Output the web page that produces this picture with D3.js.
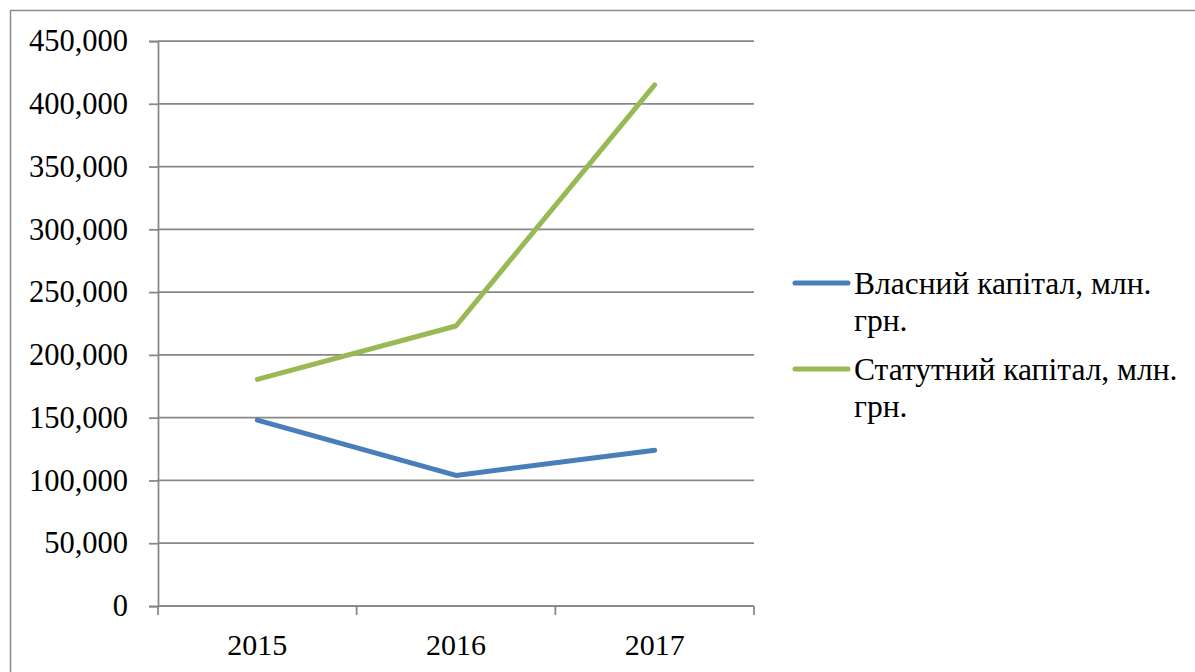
<!DOCTYPE html>
<html>
<head>
<meta charset="utf-8">
<script src="https://cdn.jsdelivr.net/npm/d3@7"></script>
</head>
<body style="margin:0;padding:0;background:#fff;">
<svg id="chart" width="1195" height="672" style="display:block;"></svg>
<script>
const categories = ["2015", "2016", "2017"];
const seriesNames = ["Власний капітал, млн. грн.", "Статутний капітал, млн. грн."];
const legendLines = [["Власний капітал, млн.", "грн."], ["Статутний капітал, млн.", "грн."]];
const ownCapital = [148000, 104000, 124000];
const statutoryCapital = [180500, 223000, 415000];
const yTicks = [0, 50000, 100000, 150000, 200000, 250000, 300000, 350000, 400000, 450000];
const colors = ["#4a7ebb", "#98b954"];
const FONT = '"Liberation Serif", serif';

const svg = d3.select("#chart");
const plotLeft = 158, plotRight = 754, plotTop = 41, plotBottom = 606;

// outer frame
svg.append("rect").attr("x", 10.5).attr("y", 10.5).attr("width", 1300).attr("height", 800)
  .attr("fill", "none").attr("stroke", "#8c8c8c").attr("stroke-width", 1.5);

const x = d3.scaleBand().domain(categories).range([plotLeft, plotRight]).padding(0);
const y = d3.scaleLinear().domain([0, 450000]).range([plotBottom, plotTop]);

// gridlines
svg.append("g").selectAll("line").data(yTicks).join("line")
  .attr("x1", plotLeft).attr("x2", plotRight)
  .attr("y1", d => y(d)).attr("y2", d => y(d))
  .attr("stroke", "#878787").attr("stroke-width", 1.75);

// y axis
const yAxis = d3.axisLeft(y).tickValues(yTicks).tickSize(9).tickPadding(21)
  .tickFormat(d => d === 0 ? "0" : d3.format(",")(d));
const gy = svg.append("g").attr("transform", `translate(${plotLeft},0)`).call(yAxis);
gy.attr("font-family", FONT).attr("font-size", 30.5);
gy.select(".domain").attr("stroke", "#878787").attr("stroke-width", 1.75);
gy.selectAll(".tick line").attr("stroke", "#878787").attr("stroke-width", 1.75);
gy.selectAll("text").attr("font-family", FONT)
  .style("font-size", "30.5px").style("font-family", FONT).attr("fill", "#000");

// x axis
const xTickPos = [plotLeft, ...categories.map(c => x(c) + x.bandwidth())];
const gx = svg.append("g").attr("font-family", FONT);
gx.append("line").attr("x1", plotLeft).attr("x2", plotRight).attr("y1", plotBottom).attr("y2", plotBottom)
  .attr("stroke", "#878787").attr("stroke-width", 1.75);
gx.selectAll("line.t").data(xTickPos).join("line").attr("class", "t")
  .attr("x1", d => d).attr("x2", d => d).attr("y1", plotBottom).attr("y2", plotBottom + 9)
  .attr("stroke", "#878787").attr("stroke-width", 1.75);
gx.selectAll("text").data(categories).join("text")
  .attr("x", d => x(d) + x.bandwidth() / 2).attr("y", 655)
  .attr("text-anchor", "middle").attr("fill", "#000").attr("font-family", FONT)
  .style("font-size", "30px").style("font-family", FONT).text(d => d);

// lines
const line = d3.line().x((d, i) => x(categories[i]) + x.bandwidth() / 2).y(d => y(d));
[ownCapital, statutoryCapital].forEach((s, i) => {
  svg.append("path").datum(s).attr("d", line).attr("fill", "none")
    .attr("stroke", colors[i]).attr("stroke-width", 5)
    .attr("stroke-linecap", "round").attr("stroke-linejoin", "round");
});

// legend
const legendY = [283, 369];
legendLines.forEach((lines, i) => {
  const g = svg.append("g").attr("font-family", FONT);
  g.append("line").attr("x1", 795).attr("x2", 848).attr("y1", legendY[i]).attr("y2", legendY[i])
    .attr("stroke", colors[i]).attr("stroke-width", 5).attr("stroke-linecap", "round");
  lines.forEach((t, j) => {
    g.append("text").attr("x", 854).attr("y", legendY[i] + 11 + j * 37)
      .attr("fill", "#000").attr("font-family", FONT)
      .style("font-size", "31.5px").style("font-family", FONT).text(t);
  });
});
</script>
</body>
</html>
